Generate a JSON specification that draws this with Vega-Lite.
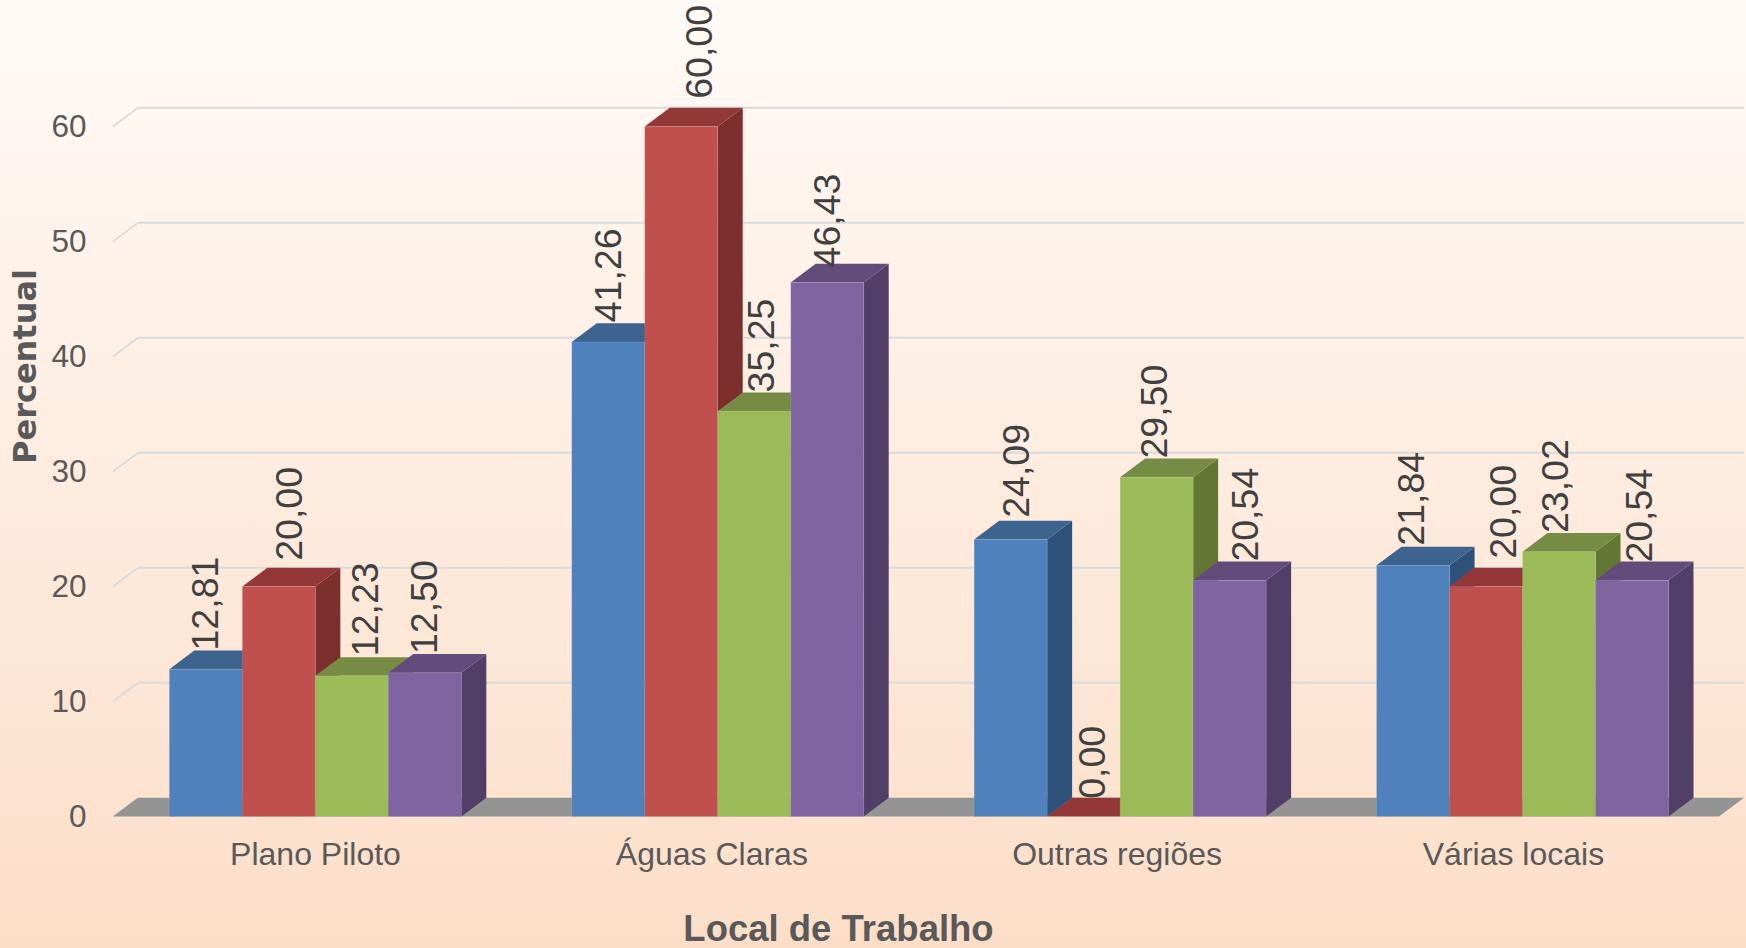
{
"$schema":"https://vega.github.io/schema/vega-lite/v6.json",
"width":1746,"height":948,"padding":0,"autosize":{"type":"none"},
"background":"#fdebdd",
"view":{"stroke":null,"fill":{"x1":0,"y1":0,"x2":0,"y2":1,"gradient":"linear","stops":[{"offset":0,"color":"#fffaf6"},{"offset":1,"color":"#fcdec8"}]}},
"config":{"font":"Liberation Sans"},
"datasets":{
"valores":[
{"local":"Plano Piloto","serie":"Série 1","valor":12.81},
{"local":"Plano Piloto","serie":"Série 2","valor":20.00},
{"local":"Plano Piloto","serie":"Série 3","valor":12.23},
{"local":"Plano Piloto","serie":"Série 4","valor":12.50},
{"local":"Águas Claras","serie":"Série 1","valor":41.26},
{"local":"Águas Claras","serie":"Série 2","valor":60.00},
{"local":"Águas Claras","serie":"Série 3","valor":35.25},
{"local":"Águas Claras","serie":"Série 4","valor":46.43},
{"local":"Outras regiões","serie":"Série 1","valor":24.09},
{"local":"Outras regiões","serie":"Série 2","valor":0.00},
{"local":"Outras regiões","serie":"Série 3","valor":29.50},
{"local":"Outras regiões","serie":"Série 4","valor":20.54},
{"local":"Várias locais","serie":"Série 1","valor":21.84},
{"local":"Várias locais","serie":"Série 2","valor":20.00},
{"local":"Várias locais","serie":"Série 3","valor":23.02},
{"local":"Várias locais","serie":"Série 4","valor":20.54}
],
"marcas":[{"marca":0},{"marca":10},{"marca":20},{"marca":30},{"marca":40},{"marca":50},{"marca":60}]
},
"layer":[
{
"data":{"name":"marcas"},
"transform":[{"calculate":"datum.marca+1.626","as":"yb"},{"calculate":"0","as":"xo"},{"calculate":"0.0621","as":"xa"},{"calculate":"4.0531","as":"xb"},{"filter":"datum.marca>0"}],
"mark":{"type":"rule","stroke":"#d9dadb","strokeWidth":2},
"encoding":{
"x":{"field":"xa","type":"quantitative","scale":{"domain":[-0.2808,4.0581],"nice":false,"zero":false},"axis":null},
"x2":{"field":"xb"},
"y":{"field":"yb","type":"quantitative","scale":{"domain":[-11.435,71],"nice":false,"zero":false},"axis":null}
}
},
{
"data":{"name":"marcas"},
"transform":[{"calculate":"datum.marca+1.626","as":"yb"},{"calculate":"0","as":"xo"},{"calculate":"0.0621","as":"xa"}],
"mark":{"type":"rule","stroke":"#d9dadb","strokeWidth":1.8},
"encoding":{
"x":{"field":"xo","type":"quantitative","scale":{"domain":[-0.2808,4.0581],"nice":false,"zero":false},"axis":null},
"x2":{"field":"xa"},
"y":{"field":"marca","type":"quantitative","scale":{"domain":[-11.435,71],"nice":false,"zero":false},
"axis":{"title":"Percentual","orient":"left","offset":-90,"values":[0,10,20,30,40,50,60],"grid":false,"domain":false,"ticks":false,"labelPadding":4,"labelFontSize":31.5,"labelOffset":1,"labelColor":"#595959","labelFont":"Liberation Sans","labelFlush":false,"labelBound":false,"labelOverlap":false,
"titleFont":"DejaVu Sans","titleFontWeight":"bold","titleFontSize":32,"titleColor":"#595959","titleAngle":270,"titleX":-65,"titleY":366,"titleAlign":"center","titleBaseline":"middle"}},
"y2":{"field":"yb"}
}
},
{
"data":{"values":[{"t":0},{"t":1}]},
"transform":[{"calculate":"datum.t*0.0621","as":"xa"},{"calculate":"3.991+datum.t*0.0621","as":"xb"},{"calculate":"datum.t*1.626","as":"yb"}],
"mark":{"type":"area","orient":"horizontal","fill":"#949494"},
"encoding":{
"x":{"field":"xa","type":"quantitative","scale":{"domain":[-0.2808,4.0581],"nice":false,"zero":false},
"axis":{"title":"Local de Trabalho","orient":"bottom","offset":-131.5,"values":[0.502,1.487,2.494,3.479],"labelExpr":"datum.value<1?'Plano Piloto':datum.value<2?'Águas Claras':datum.value<3?'Outras regiões':'Várias locais'","grid":false,"domain":false,"ticks":false,"labelPadding":23,"labelFontSize":32,"labelLimit":500,"labelColor":"#595959","labelFont":"Liberation Sans","labelFlush":false,"labelBound":false,"labelOverlap":false,"labelAngle":0,
"titleFont":"Liberation Sans","titleFontWeight":"bold","titleFontSize":36.5,"titleColor":"#595959","titleX":838,"titleY":113,"titleAlign":"center","titleBaseline":"middle","titleAnchor":null}},
"x2":{"field":"xb"},
"y":{"field":"yb","type":"quantitative","stack":null,"scale":{"domain":[-11.435,71],"nice":false,"zero":false},"axis":null}
}
},
{
"data":{"name":"valores"},
"transform":[
{"calculate":"indexof(['Plano Piloto','Águas Claras','Outras regiões','Várias locais'],datum.local)","as":"g"},
{"calculate":"indexof(['Série 1','Série 2','Série 3','Série 4'],datum.serie)","as":"s"},
{"calculate":"0.14+datum.g+datum.s*0.1814","as":"x0"},
{"calculate":"[0,1]","as":"t"},{"flatten":["t"]},
{"calculate":"datum.x0+0.1814+datum.t*0.0621","as":"xs"},
{"calculate":"datum.valor+datum.t*1.626","as":"ys"},
{"calculate":"datum.t*1.626","as":"ys0"}
],
"mark":{"type":"area","orient":"vertical"},
"encoding":{
"x":{"field":"xs","type":"quantitative","scale":{"domain":[-0.2808,4.0581],"nice":false,"zero":false},"axis":null},
"y":{"field":"ys","type":"quantitative","stack":null,"scale":{"domain":[-11.435,71],"nice":false,"zero":false},"axis":null},
"y2":{"field":"ys0"},
"detail":{"field":"local"},
"fill":{"field":"serie","type":"nominal","legend":null,"scale":{"domain":["Série 1","Série 2","Série 3","Série 4"],"range":["#2f527b","#7c2f2d","#647634","#523f68"]}}
}
},
{
"data":{"name":"valores"},
"transform":[
{"calculate":"indexof(['Plano Piloto','Águas Claras','Outras regiões','Várias locais'],datum.local)","as":"g"},
{"calculate":"indexof(['Série 1','Série 2','Série 3','Série 4'],datum.serie)","as":"s"},
{"calculate":"0.14+datum.g+datum.s*0.1814","as":"x0"},
{"calculate":"[0,1]","as":"t"},{"flatten":["t"]},
{"calculate":"datum.x0+datum.t*0.0621","as":"xt"},
{"calculate":"datum.xt+0.1814","as":"xt2"},
{"calculate":"datum.valor+datum.t*1.626","as":"yt"}
],
"mark":{"type":"area","orient":"horizontal"},
"encoding":{
"x":{"field":"xt","type":"quantitative","scale":{"domain":[-0.2808,4.0581],"nice":false,"zero":false},"axis":null},
"x2":{"field":"xt2"},
"y":{"field":"yt","type":"quantitative","stack":null,"scale":{"domain":[-11.435,71],"nice":false,"zero":false},"axis":null},
"detail":{"field":"local"},
"fill":{"field":"serie","type":"nominal","legend":null,"scale":{"domain":["Série 1","Série 2","Série 3","Série 4"],"range":["#3d638f","#933838","#768c44","#624c7b"]}}
}
},
{
"data":{"name":"valores"},
"transform":[
{"calculate":"indexof(['Plano Piloto','Águas Claras','Outras regiões','Várias locais'],datum.local)","as":"g"},
{"calculate":"indexof(['Série 1','Série 2','Série 3','Série 4'],datum.serie)","as":"s"},
{"calculate":"0.14+datum.g+datum.s*0.1814","as":"x0"},
{"calculate":"datum.x0+0.1814","as":"x1"},
{"calculate":"0","as":"y0"}
],
"mark":{"type":"rect","stroke":"#ffffff","strokeOpacity":0.1,"strokeWidth":1},
"encoding":{
"x":{"field":"x0","type":"quantitative","scale":{"domain":[-0.2808,4.0581],"nice":false,"zero":false},"axis":null},
"x2":{"field":"x1"},
"y":{"field":"valor","type":"quantitative","stack":null,"scale":{"domain":[-11.435,71],"nice":false,"zero":false},"axis":null},
"y2":{"field":"y0"},
"fill":{"field":"serie","type":"nominal","legend":null,"scale":{"domain":["Série 1","Série 2","Série 3","Série 4"],"range":["#4f81bd","#c0504d","#9bbb59","#8064a2"]}}
}
},
{
"data":{"name":"valores"},
"transform":[
{"calculate":"indexof(['Plano Piloto','Águas Claras','Outras regiões','Várias locais'],datum.local)","as":"g"},
{"calculate":"indexof(['Série 1','Série 2','Série 3','Série 4'],datum.serie)","as":"s"},
{"calculate":"[[1,12.5,15,1],[1.5,20,9,1.5],[7,10,-1,17],[-0.5,19,-2,8.5]][datum.g][datum.s]","as":"dx"},
{"calculate":"[[0,7,1,0],[1,9,0,-3.6],[3,-1,0,0],[1,9,0,-1]][datum.g][datum.s]","as":"dy"},
{"calculate":"0.14+datum.g+datum.s*0.1814+0.0907+datum.dx/402.4","as":"xl"},
{"calculate":"datum.valor+1.626+datum.dy/11.5","as":"yl"},
{"calculate":"replace(format(datum.valor,'.2f'),'.',',')","as":"rotulo"}
],
"mark":{"type":"text","angle":270,"align":"left","baseline":"middle","fontSize":37.5,"font":"Liberation Sans","color":"#404040"},
"encoding":{
"x":{"field":"xl","type":"quantitative","scale":{"domain":[-0.2808,4.0581],"nice":false,"zero":false},"axis":null},
"y":{"field":"yl","type":"quantitative","scale":{"domain":[-11.435,71],"nice":false,"zero":false},"axis":null},
"text":{"field":"rotulo","type":"nominal"}
}
}
],
"resolve":{"scale":{"fill":"independent"},"axis":{"x":"independent","y":"independent"}}
}
